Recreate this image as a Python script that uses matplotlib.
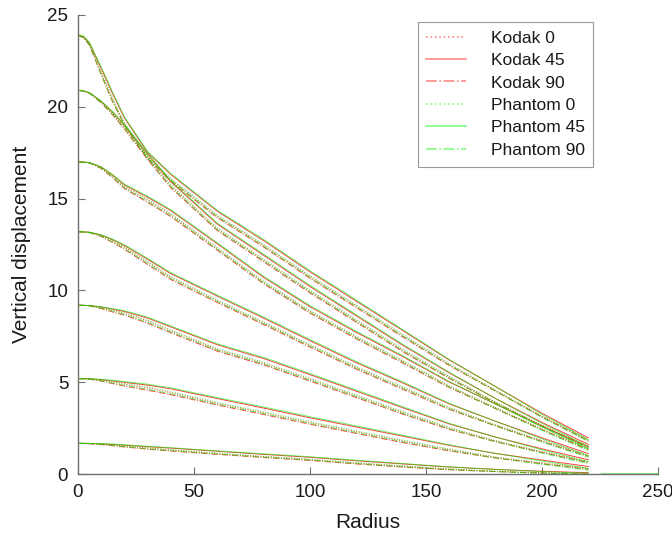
import matplotlib
matplotlib.use("Agg")
import matplotlib.pyplot as plt

plt.rcParams['font.family'] = ['Liberation Sans', 'DejaVu Sans']

radius = [0, 2.5, 5, 10, 15, 20, 30, 40, 60, 80, 100, 120, 140, 160, 180, 200, 220]

# one list per load level (bottom to top)
kodak_0 = [
    [1.68, 1.68, 1.67, 1.63, 1.59, 1.53, 1.43, 1.32, 1.13, 0.96, 0.80, 0.61, 0.44, 0.28, 0.16, 0.08, 0.03],
    [5.20, 5.20, 5.19, 5.12, 5.02, 4.90, 4.70, 4.45, 3.87, 3.35, 2.82, 2.32, 1.82, 1.35, 0.93, 0.62, 0.32],
    [9.20, 9.19, 9.18, 9.07, 8.92, 8.76, 8.35, 7.82, 6.80, 6.05, 5.17, 4.27, 3.37, 2.52, 1.82, 1.23, 0.68],
    [13.20, 13.19, 13.17, 12.99, 12.70, 12.35, 11.55, 10.72, 9.45, 8.25, 7.02, 5.82, 4.72, 3.61, 2.68, 1.83, 1.02],
    [17.00, 16.99, 16.96, 16.69, 16.22, 15.65, 14.93, 14.15, 12.30, 10.47, 8.87, 7.47, 6.15, 4.80, 3.62, 2.47, 1.38],
    [20.90, 20.86, 20.76, 20.27, 19.64, 18.90, 17.27, 15.72, 13.37, 11.67, 9.97, 8.37, 6.77, 5.30, 3.92, 2.67, 1.52],
    [23.90, 23.78, 23.40, 21.90, 20.40, 19.10, 17.27, 16.07, 14.07, 12.47, 10.77, 9.17, 7.57, 6.00, 4.57, 3.17, 1.88],
]
kodak_45 = [
    [1.68, 1.68, 1.67, 1.65, 1.62, 1.58, 1.50, 1.42, 1.25, 1.08, 0.92, 0.73, 0.56, 0.39, 0.26, 0.16, 0.08],
    [5.20, 5.20, 5.19, 5.15, 5.08, 5.00, 4.85, 4.65, 4.12, 3.60, 3.07, 2.57, 2.07, 1.57, 1.13, 0.77, 0.42],
    [9.20, 9.19, 9.18, 9.10, 8.98, 8.86, 8.50, 8.02, 7.05, 6.30, 5.42, 4.52, 3.62, 2.74, 2.02, 1.38, 0.78],
    [13.20, 13.19, 13.17, 13.02, 12.76, 12.45, 11.70, 10.92, 9.70, 8.50, 7.27, 6.07, 4.97, 3.83, 2.88, 1.98, 1.12],
    [17.00, 16.99, 16.96, 16.72, 16.28, 15.75, 15.08, 14.35, 12.55, 10.72, 9.12, 7.72, 6.40, 5.02, 3.82, 2.62, 1.48],
    [20.90, 20.86, 20.76, 20.30, 19.70, 19.00, 17.42, 15.92, 13.62, 11.92, 10.22, 8.62, 7.02, 5.52, 4.12, 2.82, 1.62],
    [23.90, 23.80, 23.45, 22.10, 20.70, 19.40, 17.52, 16.32, 14.32, 12.72, 11.02, 9.42, 7.82, 6.22, 4.77, 3.32, 1.98],
]
kodak_90 = [
    [1.68, 1.67, 1.66, 1.61, 1.55, 1.48, 1.36, 1.26, 1.08, 0.91, 0.75, 0.56, 0.39, 0.24, 0.14, 0.06, 0.01],
    [5.20, 5.19, 5.17, 5.07, 4.93, 4.80, 4.57, 4.33, 3.77, 3.25, 2.72, 2.22, 1.72, 1.27, 0.88, 0.57, 0.27],
    [9.20, 9.19, 9.16, 9.02, 8.83, 8.66, 8.22, 7.70, 6.70, 5.95, 5.07, 4.17, 3.27, 2.44, 1.77, 1.18, 0.63],
    [13.20, 13.18, 13.15, 12.94, 12.61, 12.25, 11.42, 10.60, 9.35, 8.15, 6.92, 5.72, 4.62, 3.53, 2.63, 1.78, 0.97],
    [17.00, 16.98, 16.94, 16.64, 16.13, 15.55, 14.80, 14.03, 12.20, 10.37, 8.77, 7.37, 6.05, 4.72, 3.57, 2.42, 1.33],
    [20.90, 20.85, 20.74, 20.22, 19.55, 18.80, 17.14, 15.60, 13.27, 11.57, 9.87, 8.27, 6.67, 5.22, 3.87, 2.62, 1.47],
    [23.90, 23.75, 23.35, 21.75, 20.25, 19.00, 17.17, 15.97, 13.97, 12.37, 10.67, 9.07, 7.47, 5.92, 4.52, 3.12, 1.83],
]
phantom_0 = [
    [1.68, 1.68, 1.67, 1.64, 1.60, 1.55, 1.45, 1.34, 1.15, 0.98, 0.82, 0.63, 0.46, 0.29, 0.16, 0.07, 0.01],
    [5.20, 5.20, 5.19, 5.14, 5.05, 4.94, 4.75, 4.50, 3.92, 3.40, 2.87, 2.37, 1.87, 1.38, 0.93, 0.59, 0.27],
    [9.20, 9.19, 9.18, 9.09, 8.95, 8.80, 8.40, 7.87, 6.85, 6.10, 5.22, 4.32, 3.42, 2.55, 1.82, 1.20, 0.63],
    [13.20, 13.19, 13.17, 13.01, 12.73, 12.39, 11.60, 10.77, 9.50, 8.30, 7.07, 5.87, 4.77, 3.64, 2.68, 1.80, 0.97],
    [17.00, 16.99, 16.96, 16.71, 16.25, 15.69, 14.98, 14.20, 12.35, 10.52, 8.92, 7.52, 6.20, 4.83, 3.62, 2.44, 1.33],
    [20.90, 20.86, 20.76, 20.29, 19.67, 18.94, 17.32, 15.77, 13.42, 11.72, 10.02, 8.42, 6.82, 5.33, 3.92, 2.64, 1.47],
    [23.90, 23.78, 23.40, 21.92, 20.43, 19.14, 17.32, 16.12, 14.12, 12.52, 10.82, 9.22, 7.62, 6.03, 4.57, 3.14, 1.83],
]
phantom_45 = [
    [1.68, 1.68, 1.68, 1.67, 1.64, 1.60, 1.52, 1.44, 1.27, 1.11, 0.95, 0.76, 0.58, 0.40, 0.26, 0.14, 0.05],
    [5.20, 5.20, 5.19, 5.16, 5.11, 5.04, 4.90, 4.70, 4.17, 3.66, 3.13, 2.63, 2.12, 1.60, 1.13, 0.72, 0.32],
    [9.20, 9.19, 9.18, 9.11, 9.01, 8.90, 8.55, 8.07, 7.10, 6.36, 5.48, 4.58, 3.67, 2.77, 2.02, 1.33, 0.68],
    [13.20, 13.19, 13.17, 13.03, 12.79, 12.49, 11.75, 10.97, 9.75, 8.56, 7.33, 6.13, 5.02, 3.86, 2.88, 1.93, 1.02],
    [17.00, 16.99, 16.96, 16.73, 16.31, 15.79, 15.13, 14.40, 12.60, 10.78, 9.18, 7.78, 6.45, 5.05, 3.82, 2.57, 1.38],
    [20.90, 20.86, 20.76, 20.31, 19.73, 19.04, 17.47, 15.97, 13.67, 11.98, 10.28, 8.68, 7.07, 5.55, 4.12, 2.77, 1.52],
    [23.95, 23.85, 23.50, 22.18, 20.78, 19.46, 17.57, 16.37, 14.37, 12.78, 11.08, 9.48, 7.87, 6.25, 4.77, 3.27, 1.88],
]
phantom_90 = [
    [1.68, 1.67, 1.66, 1.62, 1.56, 1.50, 1.38, 1.28, 1.10, 0.93, 0.77, 0.58, 0.41, 0.25, 0.14, 0.05, 0.00],
    [5.20, 5.19, 5.17, 5.09, 4.96, 4.84, 4.62, 4.38, 3.82, 3.30, 2.77, 2.27, 1.77, 1.30, 0.88, 0.54, 0.22],
    [9.20, 9.19, 9.16, 9.04, 8.86, 8.70, 8.27, 7.75, 6.75, 6.00, 5.12, 4.22, 3.32, 2.47, 1.77, 1.15, 0.58],
    [13.20, 13.18, 13.15, 12.96, 12.64, 12.29, 11.47, 10.65, 9.40, 8.20, 6.97, 5.77, 4.67, 3.56, 2.63, 1.75, 0.92],
    [17.00, 16.98, 16.94, 16.66, 16.16, 15.59, 14.85, 14.08, 12.25, 10.42, 8.82, 7.42, 6.10, 4.75, 3.57, 2.39, 1.28],
    [20.90, 20.85, 20.74, 20.24, 19.58, 18.84, 17.19, 15.65, 13.32, 11.62, 9.92, 8.32, 6.72, 5.25, 3.87, 2.59, 1.42],
    [23.90, 23.75, 23.35, 21.77, 20.28, 19.04, 17.22, 16.02, 14.02, 12.42, 10.72, 9.12, 7.52, 5.95, 4.52, 3.09, 1.78],
]
# phantom data runs on at zero beyond the last measured radius
tail_r = [226, 250]
tail_v = [0, 0]

series = [
    ("Kodak 0", kodak_0, "#ff0000", ":"),
    ("Kodak 45", kodak_45, "#ff0000", "-"),
    ("Kodak 90", kodak_90, "#ff0000", "-."),
    ("Phantom 0", phantom_0, "#00ee00", ":"),
    ("Phantom 45", phantom_45, "#00ee00", "-"),
    ("Phantom 90", phantom_90, "#00ee00", "-."),
]

fig = plt.figure(figsize=(6.72, 5.34), dpi=100)
ax = fig.add_axes([0.116, 0.112, 0.863, 0.860])

for name, levels, col, ls in series:
    for i, vals in enumerate(levels):
        ax.plot(radius, vals, color=col, ls=ls, lw=0.7,
                alpha=0.75 if col == "#ff0000" else 0.6,
                label=name if i == 0 else None)
ax.plot(tail_r, tail_v, color="#00ee00", lw=1.2, alpha=0.6, clip_on=False)

ax.set_xlim(0, 250)
ax.set_ylim(0, 25)
ax.set_xticks([0, 50, 100, 150, 200, 250])
ax.set_yticks([0, 5, 10, 15, 20, 25])
ax.spines['top'].set_visible(False)
ax.spines['right'].set_visible(False)
for s in ['left', 'bottom']:
    ax.spines[s].set_color('#707070')
    ax.spines[s].set_linewidth(1.0)
ax.tick_params(direction='in', length=5, width=0.8, color='#707070',
               labelsize=13.5, labelcolor='#1a1a1a', pad=7)
ax.set_xlabel("Radius", fontsize=15, color='#1a1a1a', labelpad=9)
ax.set_ylabel("Vertical displacement", fontsize=15, color='#1a1a1a', labelpad=12)

leg = ax.legend(loc='upper left', bbox_to_anchor=(0.586, 0.985), borderaxespad=0,
                fontsize=12.5, frameon=True, fancybox=False, handlelength=2.3,
                handletextpad=1.4, labelspacing=0.42, borderpad=0.5)
leg.get_frame().set_edgecolor('#808080')
leg.get_frame().set_linewidth(0.8)
for t in leg.get_texts():
    t.set_color('#1a1a1a')
for h in leg.get_lines():
    h.set_alpha(1)
    h.set_linewidth(1.2)
    h.set_color('#ff8a8a' if h.get_color() == '#ff0000' else '#80ff80')

fig.savefig("out.png", dpi=100)
